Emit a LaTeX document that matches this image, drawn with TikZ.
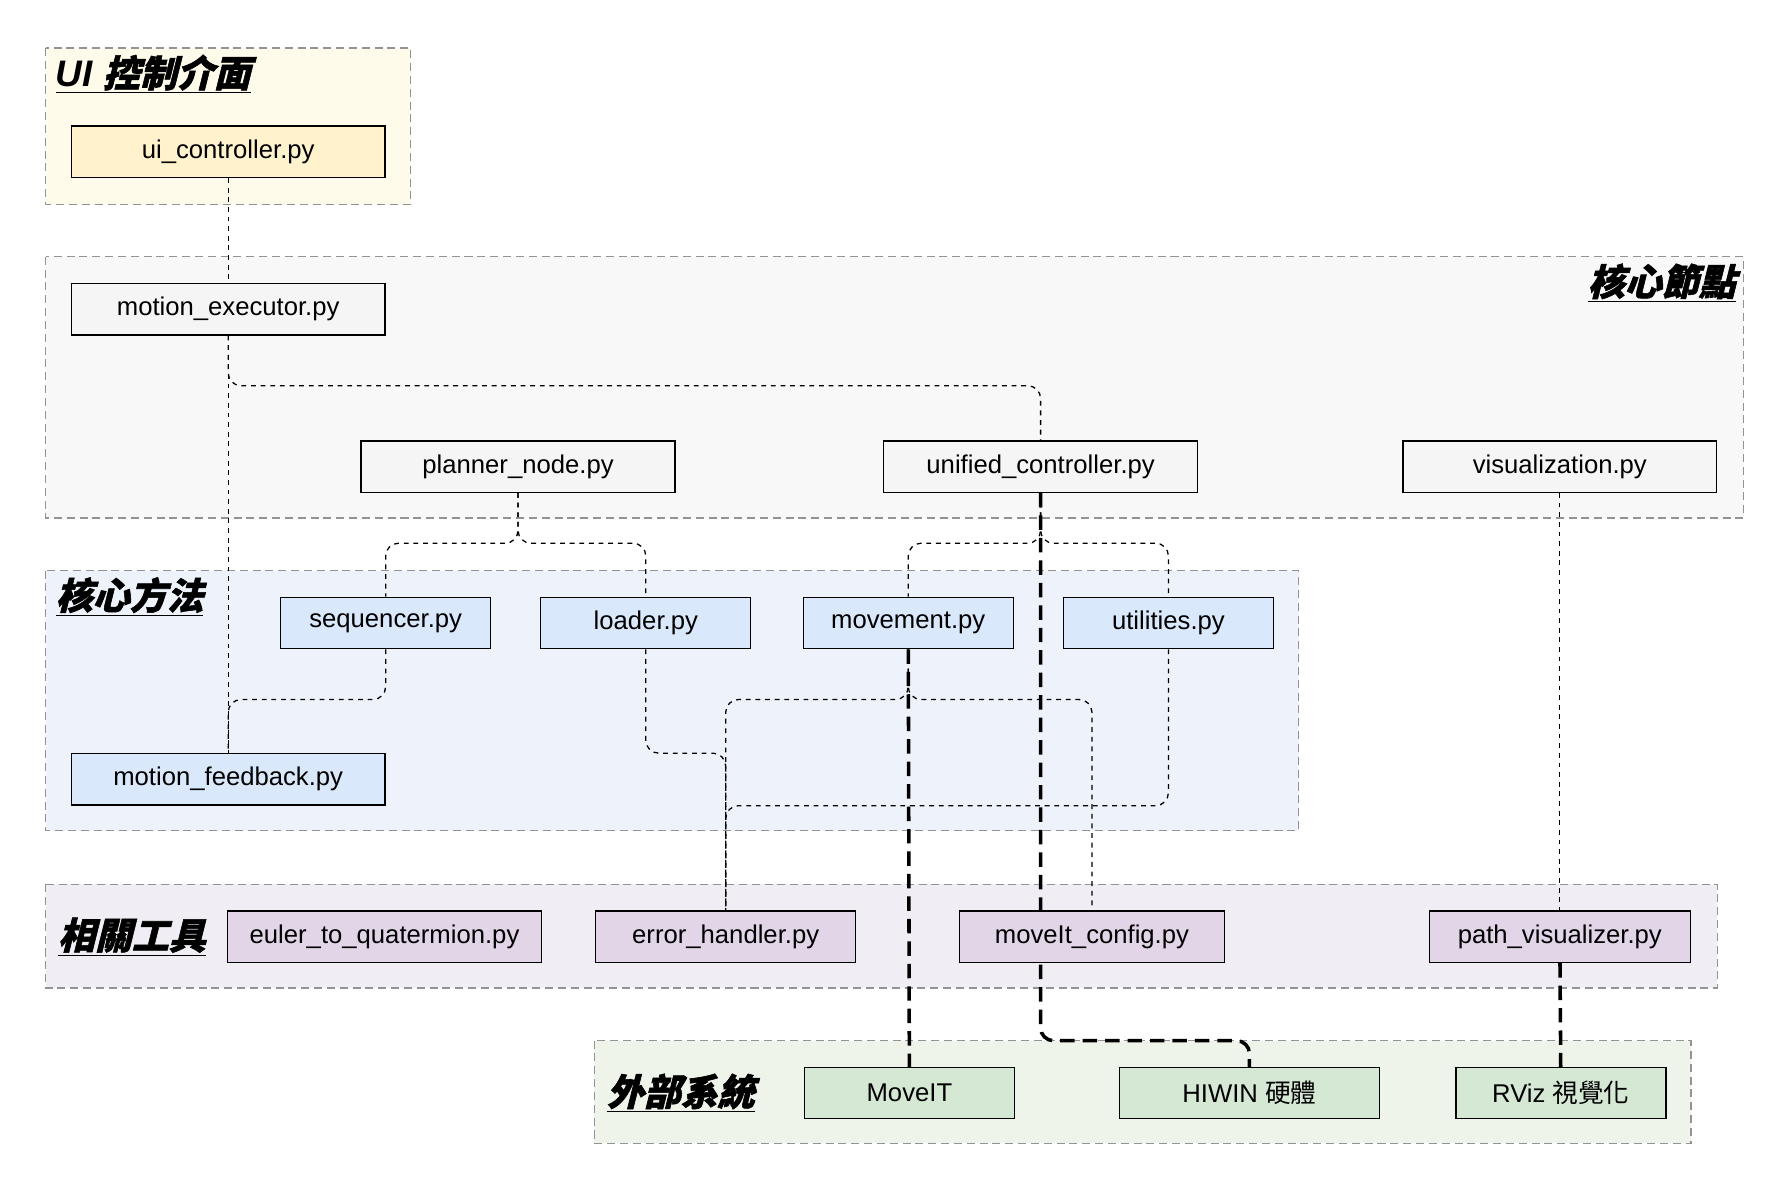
\documentclass[tikz,border=0pt]{standalone}
\usepackage{fontspec}
\setmainfont{Liberation Sans}
\newfontfamily\cjk{Noto Sans CJK TC}
\newfontfamily\cjktitle[FakeSlant=0.25,FakeBold=1.5]{Noto Sans CJK TC}
\usetikzlibrary{positioning}
\pgfdeclarelayer{back}
\pgfdeclarelayer{edges}
\pgfsetlayers{back,edges,main}
\definecolor{uifill}{HTML}{FFF2CC}
\definecolor{uigrp}{HTML}{FFFBEB}
\definecolor{corefill}{HTML}{F5F5F5}
\definecolor{coregrp}{HTML}{F8F8F8}
\definecolor{methfill}{HTML}{DAE8FC}
\definecolor{methgrp}{HTML}{EEF3FB}
\definecolor{toolfill}{HTML}{E1D5E7}
\definecolor{toolgrp}{HTML}{F1EDF4}
\definecolor{extfill}{HTML}{D5E8D4}
\definecolor{extgrp}{HTML}{EEF4EA}
\tikzset{
  file/.style={draw, thick, minimum height=32pt, inner sep=0pt, font=\fontsize{16}{18}\selectfont},
  wide/.style={file, minimum width=275*0.025cm},
  narrow/.style={file, minimum width=184*0.025cm},
  group/.style={draw=gray!85, thick, dash pattern=on 5pt off 3pt},
  title/.style={font=\fontsize{23}{26}\selectfont\bfseries\itshape},
  link/.style={dashed, thick, rounded corners=8pt},
  strong/.style={dash pattern=on 9pt off 5pt, line width=2.2pt, rounded corners=8pt}
}
\begin{document}
\begin{tikzpicture}[x=0.025cm, y=-0.025cm]
\useasboundingbox (0,0) rectangle (1560,1040);
% groups
\begin{pgfonlayer}{back}
\draw[group, fill=uigrp] (40,42) rectangle (360,179);
\draw[group, fill=coregrp] (40,225) rectangle (1528,454);
\draw[group, fill=methgrp] (40,500) rectangle (1138,728);
\draw[group, fill=toolgrp] (40,775) rectangle (1505,866);
\draw[group, fill=extgrp] (521,912) rectangle (1482,1002);
\end{pgfonlayer}
\node[title, anchor=west] (tui) at (44,65) {\underline{UI\ {\cjktitle 控制介面}}};
\node[title, anchor=east] (tcore) at (1526,248) {\underline{\cjktitle 核心節點}};
\node[title, anchor=west] (tmeth) at (44,523) {\underline{\cjktitle 核心方法}};
\node[title, anchor=west] (ttool) at (46,821) {\underline{\cjktitle 相關工具}};
\node[title, anchor=west] (text) at (527,958) {\underline{\cjktitle 外部系統}};
% nodes
\node[wide, fill=uifill] (ui) at (200,133) {ui\_controller.py};
\node[wide, fill=corefill] (exec) at (200,271) {motion\_executor.py};
\node[wide, fill=corefill] (planner) at (454,409) {planner\_node.py};
\node[wide, fill=corefill] (unified) at (912,409) {unified\_controller.py};
\node[wide, fill=corefill] (vis) at (1367,409) {visualization.py};
\node[narrow, fill=methfill] (seq) at (338,546) {sequencer.py};
\node[narrow, fill=methfill] (loader) at (566,546) {loader.py};
\node[narrow, fill=methfill] (move) at (796,546) {movement.py};
\node[narrow, fill=methfill] (util) at (1024,546) {utilities.py};
\node[wide, fill=methfill] (feedback) at (200,683) {motion\_feedback.py};
\node[wide, fill=toolfill] (euler) at (337,821) {euler\_to\_quatermion.py};
\node[file, minimum width=228*0.025cm, fill=toolfill] (error) at (636,821) {error\_handler.py};
\node[file, minimum width=232*0.025cm, fill=toolfill] (mcfg) at (957,821) {moveIt\_config.py};
\node[file, minimum width=229*0.025cm, fill=toolfill] (path) at (1367,821) {path\_visualizer.py};
\node[narrow, fill=extfill] (moveit) at (797,958) {MoveIT};
\node[file, minimum width=228*0.025cm, fill=extfill] (hiwin) at (1095,958) {HIWIN {\cjk 硬體}};
\node[narrow, fill=extfill] (rviz) at (1368,958) {RViz {\cjk 視覺化}};
% connectors
\begin{pgfonlayer}{edges}
\draw[link] (ui) -- (exec);
\draw[link] (exec.south) -- ++(0,44) -| (unified.north);
\draw[link] (exec) -- (feedback);
\draw[link] (planner.south) -- ++(0,44) -| (seq.north);
\draw[link] (planner.south) -- ++(0,44) -| (loader.north);
\draw[link] (seq.south) -- ++(0,44) -| (feedback.north);
\draw[link] (unified.south) -- ++(0,44) -| (move.north);
\draw[link] (unified.south) -- ++(0,44) -| (util.north);
\draw[link] (move.south) -- ++(0,44) -| (error.north);
\draw[link] (move.south) -- ++(0,44) -| (mcfg.north);
\draw[link] (loader.south) -- ++(0,91) -| (error.north);
\draw[link] (util.south) -- ++(0,137) -| (error.north);
\draw[link] (vis) -- (path);
\draw[strong] (move) -- (moveit);
\draw[strong] (unified.south) -- ++(0,480) -| (hiwin.north);
\draw[strong] (path) -- (rviz);
\end{pgfonlayer}
\end{tikzpicture}
\end{document}
